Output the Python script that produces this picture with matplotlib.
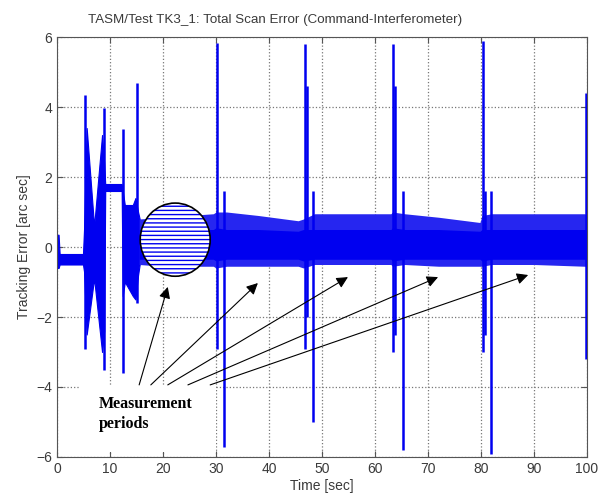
import numpy as np
import matplotlib
matplotlib.use('Agg')
import matplotlib.pyplot as plt
from matplotlib.patches import Ellipse, Rectangle

plt.rcParams['font.family'] = ['Liberation Sans', 'DejaVu Sans']

# early transient (0-16 s): envelope of the error signal
early_t = [0.0, 0.3, 0.5, 4.9, 5.1, 5.6, 7.0, 8.5, 8.9, 9.1, 12.2, 12.4, 12.8, 14.3, 14.8, 15.3, 15.6]
early_hi = [0.35, 0.35, -0.2, -0.2, 0.5, 3.4, 0.6, 3.2, 2.4, 1.8, 1.8, 1.6, 1.2, 1.2, 1.4, 1.0, 0.8]
early_lo = [-0.6, -0.6, -0.5, -0.5, -0.7, -2.5, -0.9, -3.0, -2.4, 1.6, 1.6, -1.4, -1.0, -1.4, -1.5, -0.8, -0.5]

# steady scanning band (16-100 s)
band_t = [15.5, 20, 29.5, 30.0, 32.0, 38, 45.5, 46.5, 48.6, 55, 63.0, 63.3, 65.6, 72, 79.8, 80.2, 82.0, 90, 99.6, 100]
band_hi = [0.8, 0.85, 0.95, 1.0, 1.0, 0.9, 0.75, 0.8, 0.95, 0.95, 0.95, 1.0, 0.95, 0.85, 0.7, 0.9, 0.95, 0.95, 0.95, 0.9]
band_lo = [-0.5, -0.55, -0.55, -0.6, -0.55, -0.55, -0.55, -0.6, -0.5, -0.5, -0.5, -0.55, -0.5, -0.55, -0.55, -0.55, -0.5, -0.5, -0.55, -0.55]
core_hi = [0.5, 0.5, 0.5, 0.55, 0.5, 0.5, 0.45, 0.5, 0.5, 0.5, 0.5, 0.55, 0.5, 0.5, 0.45, 0.5, 0.5, 0.5, 0.5, 0.5]
core_lo = [-0.35, -0.35, -0.35, -0.4, -0.35, -0.35, -0.35, -0.4, -0.35, -0.35, -0.35, -0.4, -0.35, -0.35, -0.35, -0.4, -0.35, -0.35, -0.35, -0.35]

# spikes at the turnarounds
spike_t = [5.3, 8.9, 12.4, 15.1, 30.2, 31.5, 46.8, 47.1, 48.3, 63.4, 63.7, 65.3, 80.4, 80.7, 81.8, 99.9]
spike_hi = [4.34, 3.97, 3.37, 4.7, 5.83, 1.6, 5.8, 4.6, 1.6, 5.8, 4.6, 1.6, 5.9, 1.6, 1.6, 4.4]
spike_lo = [-2.9, -3.5, -3.6, -1.6, -2.9, -5.7, -2.9, -2.0, -5.0, -3.0, -2.5, -5.8, -3.0, -2.5, -5.9, -3.2]

# "Measurement periods" callout
arrow_from_x = [15.5, 17.7, 20.9, 24.7, 28.9]
arrow_to_x = [20.9, 37.9, 54.9, 71.9, 88.9]
arrow_to_y = [-1.14, -1.03, -0.86, -0.86, -0.8]

blue = '#0000f0'
txtc = '#3a3a3a'

fig = plt.figure(figsize=(6.05, 4.99), dpi=100)
ax = fig.add_axes([57/605, 1-457/499, 530/605, 420/499])

ax.fill_between(early_t, early_lo, early_hi, color=blue, lw=0.8, zorder=2)
ax.fill_between(band_t, band_lo, band_hi, color='#2626f0', lw=0, zorder=2)
ax.fill_between(band_t, core_lo, core_hi, color=blue, lw=0, zorder=2)
ax.vlines(spike_t, spike_lo, spike_hi, color=blue, lw=1.8, zorder=3)

ax.set_xlim(0, 100)
ax.set_ylim(-6, 6)
ax.set_xticks(range(0, 101, 10))
ax.set_yticks(range(-6, 7, 2))
ax.grid(True, ls=':', color='#777777', lw=0.9)
ax.set_axisbelow(True)
ax.tick_params(direction='in', top=True, right=True, length=4, labelsize=10,
               colors='#555555', labelcolor=txtc)
for s in ax.spines.values():
    s.set_color('#555555')
ax.set_xlabel('Time [sec]', fontsize=10, color=txtc, labelpad=2)
ax.set_ylabel('Tracking Error [arc sec]', fontsize=10, color=txtc, labelpad=4)
fig.text(275/605, 1-20/499, 'TASM/Test TK3_1: Total Scan Error (Command-Interferometer)',
         ha='center', va='center', fontsize=9.6, color=txtc)

# magnifier circle with horizontal lines
ax.add_patch(Ellipse((22.3, 0.21), 13.2, 2.09, facecolor='white', edgecolor=blue,
                     hatch='----', lw=0, zorder=5))
ax.add_patch(Ellipse((22.3, 0.21), 13.2, 2.09, facecolor='none', edgecolor='black',
                     lw=1.2, zorder=6))

# callout box
ax.add_patch(Rectangle((4.3, -5.86), 25.7, 1.92, facecolor='white', edgecolor='none', zorder=5))
ax.text(7.9, -4.77, 'Measurement\nperiods', family='Liberation Serif', weight='bold',
        fontsize=11.5, ha='left', va='center', linespacing=1.3, zorder=7)
for x0, x1, y1 in zip(arrow_from_x, arrow_to_x, arrow_to_y):
    ax.annotate('', xy=(x1, y1), xytext=(x0, -3.94),
                arrowprops=dict(arrowstyle='-|>', color='black', lw=0.8,
                                mutation_scale=17, shrinkA=0, shrinkB=0),
                zorder=7)

fig.savefig('out.png', dpi=100)
